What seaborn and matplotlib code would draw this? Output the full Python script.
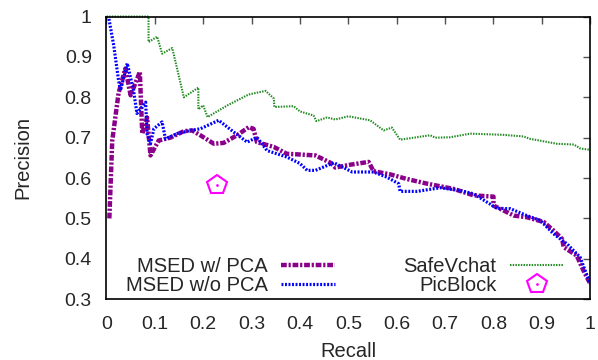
import pandas as pd
import matplotlib
matplotlib.use("Agg")
import matplotlib.pyplot as plt
import seaborn as sns
from matplotlib.lines import Line2D
from matplotlib.legend_handler import HandlerTuple

# =============================
# Data
# =============================

pca_recall = [0.006, 0.012, 0.025, 0.039, 0.05, 0.069, 0.074, 0.084, 0.091, 0.108,
              0.132, 0.16, 0.177, 0.194, 0.222, 0.242, 0.27, 0.294, 0.304, 0.311,
              0.346, 0.373, 0.39, 0.432, 0.463, 0.473, 0.504, 0.542, 0.552, 0.587,
              0.62, 0.663, 0.718, 0.759, 0.80, 0.80, 0.842, 0.869, 0.904, 0.924,
              0.942, 0.945, 0.972, 0.986, 1.0]
pca_precision = [0.50, 0.693, 0.81, 0.871, 0.805, 0.863, 0.71, 0.75, 0.656, 0.693,
                 0.70, 0.716, 0.718, 0.706, 0.685, 0.687, 0.706, 0.726, 0.722, 0.689,
                 0.677, 0.66, 0.659, 0.656, 0.638, 0.626, 0.633, 0.64, 0.617, 0.609,
                 0.598, 0.586, 0.573, 0.557, 0.554, 0.532, 0.507, 0.503, 0.491, 0.47,
                 0.449, 0.429, 0.408, 0.371, 0.338]

nopca_recall = [0.0, 0.005, 0.015, 0.025, 0.029, 0.043, 0.056, 0.063, 0.081, 0.084,
                0.091, 0.098, 0.115, 0.122, 0.146, 0.174, 0.194, 0.232, 0.263, 0.291,
                0.311, 0.332, 0.373, 0.40, 0.415, 0.432, 0.47, 0.508, 0.552, 0.58,
                0.604, 0.607, 0.642, 0.69, 0.731, 0.759, 0.807, 0.835, 0.869, 0.897,
                0.924, 0.952, 0.979, 1.0]
nopca_precision = [1.0, 0.995, 0.929, 0.842, 0.817, 0.884, 0.817, 0.76, 0.788, 0.71,
                   0.685, 0.722, 0.739, 0.697, 0.71, 0.718, 0.722, 0.743, 0.714, 0.689,
                   0.701, 0.668, 0.652, 0.636, 0.619, 0.619, 0.638, 0.615, 0.615, 0.602,
                   0.586, 0.567, 0.567, 0.576, 0.569, 0.561, 0.525, 0.524, 0.507, 0.495,
                   0.462, 0.437, 0.404, 0.338]

safe_recall = [0.0, 0.087, 0.087, 0.105, 0.115, 0.136, 0.16, 0.19, 0.19, 0.2,
               0.209, 0.25, 0.294, 0.329, 0.346, 0.347, 0.387, 0.40, 0.428, 0.434,
               0.456, 0.473, 0.50, 0.545, 0.573, 0.59, 0.607, 0.669, 0.68, 0.71,
               0.752, 0.821, 0.862, 0.876, 0.931, 0.966, 0.98, 1.0]
safe_precision = [1.0, 1.0, 0.937, 0.95, 0.908, 0.922, 0.80, 0.824, 0.77, 0.78,
                  0.751, 0.78, 0.807, 0.816, 0.797, 0.776, 0.778, 0.765, 0.755, 0.741,
                  0.75, 0.745, 0.753, 0.743, 0.718, 0.725, 0.695, 0.706, 0.70, 0.701,
                  0.71, 0.707, 0.703, 0.697, 0.685, 0.683, 0.673, 0.670]

picblock_recall = [0.229]
picblock_precision = [0.584]

x_ticks = [0, 0.1, 0.2, 0.3, 0.4, 0.5, 0.6, 0.7, 0.8, 0.9, 1]
y_ticks = [0.3, 0.4, 0.5, 0.6, 0.7, 0.8, 0.9, 1]

# =============================
# Style
# =============================

sns.set_style("white")
plt.rcParams['font.family'] = ['Liberation Sans', 'DejaVu Sans']
plt.rcParams['font.size'] = 14.5

fig = plt.figure(figsize=(5.98, 3.6), dpi=100)
ax = fig.add_axes([0.178, 0.169, 0.809, 0.785])

# =============================
# Curves
# =============================

df_pca = pd.DataFrame({'Recall': pca_recall, 'Precision': pca_precision})
df_nopca = pd.DataFrame({'Recall': nopca_recall, 'Precision': nopca_precision})
df_safe = pd.DataFrame({'Recall': safe_recall, 'Precision': safe_precision})

sns.lineplot(data=df_safe, x='Recall', y='Precision', estimator=None, sort=False,
             color='#228B22', linewidth=1.5, ax=ax, legend=False)
sns.lineplot(data=df_pca, x='Recall', y='Precision', estimator=None, sort=False,
             color='#8B008B', linewidth=3.2, ax=ax, legend=False)
sns.lineplot(data=df_nopca, x='Recall', y='Precision', estimator=None, sort=False,
             color='#0000FF', linewidth=2.3, ax=ax, legend=False)

# dash patterns (gnuplot look)
ax.lines[0].set_dashes((0.7, 0.6))
ax.lines[0].set_clip_on(False)          # visible along the top border
ax.lines[1].set_dashes((1.3, 0.4, 0.5, 0.4))
ax.lines[2].set_dashes((0.6, 0.5))

# PicBlock single point : pentagon with centre dot
ax.plot(picblock_recall, picblock_precision, linestyle='none', marker='p',
        markersize=15, markerfacecolor='none', markeredgecolor='#FF00FF',
        markeredgewidth=1.5)
ax.plot(picblock_recall, picblock_precision, linestyle='none', marker='.',
        markersize=2, color='#FF00FF')

# =============================
# Axes
# =============================

ax.set_xlim(0, 1)
ax.set_ylim(0.3, 1)
ax.set_xticks(x_ticks)
ax.set_yticks(y_ticks)
ax.set_xticklabels([f"{v:g}" for v in x_ticks])
ax.set_yticklabels([f"{v:g}" for v in y_ticks])
ax.tick_params(direction='in', length=5, width=1, color='#505050',
               top=True, right=True, labelsize=14)
ax.tick_params(axis='x', pad=12)
ax.tick_params(axis='y', pad=10.5)
ax.set_xlabel("Recall", fontsize=14.5, va='top')
ax.set_ylabel("Precision", fontsize=14.5)
ax.xaxis.set_label_coords(0.5, -0.152)
ax.yaxis.set_label_coords(-0.153, 0.5)
for sp in ax.spines.values():
    sp.set_color('black')
    sp.set_linewidth(1.2)
    sp.set_zorder(3)

# =============================
# Legend (gnuplot style: text right-justified, sample after)
# =============================

h_pca = Line2D([], [], color='#8B008B', linewidth=3.2, dashes=(1.3, 0.4, 0.5, 0.4))
h_nopca = Line2D([], [], color='#0000FF', linewidth=2.3, dashes=(0.6, 0.5))
h_safe = Line2D([], [], color='#228B22', linewidth=1.5, dashes=(0.7, 0.6))
h_pic = (Line2D([], [], linestyle='none', marker='p', markersize=15,
                markerfacecolor='none', markeredgecolor='#FF00FF', markeredgewidth=1.5),
         Line2D([], [], linestyle='none', marker='.', markersize=2, color='#FF00FF'))

ax.legend([h_pca, h_nopca, h_safe, h_pic],
          ['MSED w/ PCA', 'MSED w/o PCA', 'SafeVchat', 'PicBlock'],
          handler_map={tuple: HandlerTuple(ndivide=1)},
          ncol=2, markerfirst=False, frameon=False,
          loc='lower right', bbox_to_anchor=(0.975, -0.035),
          handlelength=2.7, handletextpad=0.65, columnspacing=3.4,
          labelspacing=0.02, borderpad=0.2, fontsize=14.5)

fig.savefig("out.png", dpi=100)
